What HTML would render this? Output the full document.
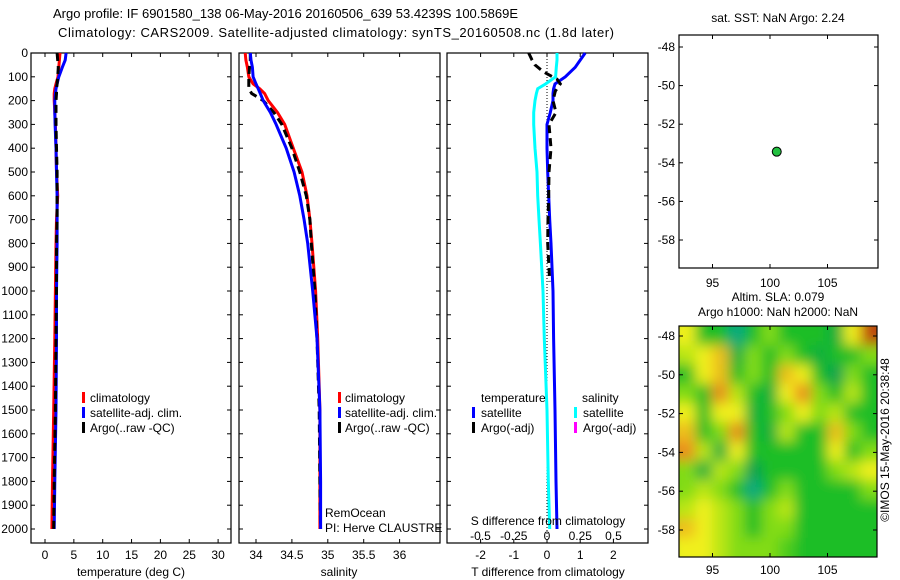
<!DOCTYPE html>
<html><head><meta charset="utf-8"><style>
html,body{margin:0;padding:0;background:#fff;}
svg{display:block;font-family:"Liberation Sans",sans-serif;}
text{font-size:12px;fill:#000;}
</style></head><body>
<svg id="s" width="900" height="580" xmlns="http://www.w3.org/2000/svg">
<defs>
<filter id="blur" x="-5%" y="-5%" width="110%" height="110%"><feGaussianBlur stdDeviation="6.5"/></filter>
<clipPath id="hmclip"><rect x="679" y="326" width="198" height="231"/></clipPath>
</defs>
<text x="53" y="18" style="font-size:13px" textLength="465">Argo profile: IF 6901580_138 06-May-2016 20160506_639 53.4239S 100.5869E</text>
<text x="58" y="37" style="font-size:13px" textLength="556">Climatology: CARS2009. Satellite-adjusted climatology: synTS_20160508.nc (1.8d later)</text>
<g id="g"></g>
</svg>
<script>
// ---- data ----
const depths      = [0, 30, 60, 100, 130, 150, 170, 200, 250, 300, 400, 500, 600, 700, 800, 1000, 1200, 1500, 1800, 2000];
const tempClim    = [2.6, 2.5, 2.4, 2.25, 1.9, 1.7, 1.6, 1.6, 1.7, 1.8, 1.9, 2.0, 2.2, 2.0, 1.9, 1.8, 1.7, 1.5, 1.3, 1.2];
const tempSat     = [3.65, 3.5, 3.0, 2.4, 2.1, 1.9, 1.8, 1.7, 1.7, 1.75, 1.9, 2.0, 2.1, 2.1, 2.1, 2.0, 2.0, 1.9, 1.7, 1.6];
const tempArgo    = [2.1, 2.2, 2.3, 2.2, 2.1, 2.0, 2.0, 1.9, 1.9, 1.9, 2.0, 2.1, 2.1, 2.1, 2.0, 2.0, 1.9, 1.8, 1.6, 1.5];
const salClim     = [33.85, 33.86, 33.88, 33.9, 33.96, 34.05, 34.12, 34.17, 34.3, 34.4, 34.52, 34.64, 34.71, 34.75, 34.78, 34.83, 34.86, 34.89, 34.89, 34.89];
const salSat      = [33.92, 33.93, 33.95, 33.96, 34.0, 34.03, 34.06, 34.1, 34.2, 34.28, 34.42, 34.53, 34.61, 34.67, 34.72, 34.79, 34.85, 34.89, 34.9, 34.9];
const salArgo     = [33.92, 33.92, 33.91, 33.9, 33.9, 33.9, 33.94, 34.1, 34.25, 34.36, 34.5, 34.61, 34.7, 34.75, 34.77, 34.82, 34.85, 34.88, 34.89, 34.9];
const tDiffSat    = [1.15, 1.0, 0.85, 0.55, 0.24, 0.2, 0.18, 0.18, 0.1, 0.0, 0.0, 0.02, 0.05, 0.08, 0.12, 0.18, 0.2, 0.24, 0.27, 0.3];
const sDiffSat    = [0.075, 0.075, 0.07, 0.065, -0.01, -0.07, -0.08, -0.09, -0.1, -0.1, -0.09, -0.075, -0.07, -0.06, -0.05, -0.03, -0.02, 0.0, 0.01, 0.02];
const tDiffArgo   = [-0.55, -0.45, -0.36, -0.1, 0.3, 0.4, 0.25, 0.18, 0.27, 0.06, 0.12, 0.06, 0.05, 0.03, 0.02, 0.08];
const depthsArgoD = [0, 30, 50, 80, 110, 130, 160, 200, 250, 300, 400, 500, 600, 700, 800, 960];
const tTicks = [0,5,10,15,20,25,30];
const sTicks = [34,34.5,35,35.5,36];
const dTicks = [0,100,200,300,400,500,600,700,800,900,1000,1100,1200,1300,1400,1500,1600,1700,1800,1900,2000];
const tdTicks = [-2,-1,0,1,2];
const sdTicks = [-0.5,-0.25,0,0.25,0.5];
const lonTicks = [95,100,105];
const latTicks = [-48,-50,-52,-54,-56,-58];
const argoLon = 100.5869, argoLat = -53.4239;
// SLA heatmap (rows north->south, cols west->east), relative units
const slaGrid = [
 [2,0,0,-1.5,0,1,0,0,0,-0.5,2,4],
 [1.5,2,2.5,-0.5,1,0,1,0,-0.5,0,0,1],
 [0,2,2.5,0,1,0,2.5,2,0,-1,1,0],
 [1,0,3,1.5,0,-0.5,2,3,1,0,1.5,0],
 [2,0,2,2,-0.5,0,1,2,1,1.5,0,0],
 [2.5,0,1,3,0,-0.5,1.5,0,0,2.5,1,0],
 [3,1.5,-0.5,2,0,0,0,0,0,2,0,1],
 [1,-0.5,1.5,1,-1,0,0,0,0,1,1.5,2],
 [1,1.5,1,0,-1.5,0,1,0,0,0,0,1],
 [1.5,2,1.5,1,0,1,1.5,0,0,0,0,0],
 [2.5,2,1.5,1,0,1,1,0,0,0,0,0],
 [2,2,1.5,1,1,1,0.5,0,0,0,0,0]
];
// ---- helpers ----
const NS="http://www.w3.org/2000/svg";
const G=document.getElementById('g');
function mk(tag,attrs,parent){const e=document.createElementNS(NS,tag);for(const k in attrs)e.setAttribute(k,attrs[k]);(parent||G).appendChild(e);return e;}
const yD = d => 53 + d*0.238;
const xT = v => 45 + v*5.77;
const xS = v => 256 + (v-34)*71.8;
const xTD = v => 547 + v*33.2;
const xSD = v => 547 + v*133;
const xLon = v => 770 + (v-100)*11.5;
const yLat = v => 47 + (-48 - v)*19.3;
const yLat2 = v => 336 + (-48 - v)*19.4;
function txt(x,y,s,anchor,name,extra){const t=mk('text',Object.assign({x:x,y:y,'text-anchor':anchor||'start'},extra||{}));t.textContent=s;return t;}
function frame(x0,y0,x1,y1,name){const r=mk('rect',{x:x0,y:y0,width:x1-x0,height:y1-y0,fill:'none',stroke:'#000','stroke-width':1.2});return r;}
function tick(x1,y1,x2,y2){const l=mk('line',{x1:x1,y1:y1,x2:x2,y2:y2,stroke:'#000','stroke-width':1});}
function line(xs,ds,xf,color,name,dash,w){
  const pts=xs.map((v,i)=>xf(v).toFixed(1)+','+yD(ds[i]).toFixed(1)).join(' ');
  const p=mk('polyline',{points:pts,fill:'none',stroke:color,'stroke-width':w||3,'stroke-dasharray':dash||'none'});
  return p;
}
function legBar(x,y,color){const r=mk('rect',{x:x,y:y-10,width:3,height:11,fill:color});}
const TOP=53, BOT=543;
// ---- panel 1 temperature ----
frame(31,TOP,231,BOT,'temperature-panel-frame');
dTicks.forEach(d=>{const y=yD(d);tick(31,y,35,y);tick(227,y,231,y);tick(239,y,243,y);tick(436,y,440,y);tick(447,y,451,y);tick(644,y,648,y);txt(28,y+4,String(d),'end','y-tick-label');});
tTicks.forEach(v=>{const x=xT(v);tick(x,TOP,x,TOP+4);tick(x,BOT-4,x,BOT);txt(x,559,String(v),'middle','x-tick-label');});
txt(131,576,'temperature (deg C)','middle','temperature-axis-title');
line(tempClim,depths,xT,'#ff0000','temp-climatology-line');
line(tempSat,depths,xT,'#0000ff','temp-satellite-line');
line(tempArgo,depths,xT,'#000','temp-argo-line','8,5');
legBar(82,402,'#ff0000');txt(90,402,'climatology','start','legend-climatology');
legBar(82,417,'#0000ff');txt(90,417,'satellite-adj. clim.','start','legend-satellite');
legBar(82,432,'#000');txt(90,432,'Argo(..raw -QC)','start','legend-argo');
// ---- panel 2 salinity ----
frame(239,TOP,440,BOT,'salinity-panel-frame');
sTicks.forEach(v=>{const x=xS(v);tick(x,TOP,x,TOP+4);tick(x,BOT-4,x,BOT);txt(x,559,String(v),'middle','x-tick-label');});
txt(339,576,'salinity','middle','salinity-axis-title');
line(salClim,depths,xS,'#ff0000','sal-climatology-line');
line(salArgo,depths,xS,'#000','sal-argo-line','8,5');
line(salSat,depths,xS,'#0000ff','sal-satellite-line');
legBar(338,402,'#ff0000');txt(345,402,'climatology','start','legend-climatology');
legBar(338,417,'#0000ff');txt(345,417,'satellite-adj. clim.','start','legend-satellite');
legBar(338,432,'#000');txt(345,432,'Argo(..raw -QC)','start','legend-argo');
txt(325,517,'RemOcean','start','remocean-label');
txt(325,532,'PI: Herve CLAUSTRE','start','pi-label');
// ---- panel 3 differences ----
frame(447,TOP,648,BOT,'difference-panel-frame');
tdTicks.forEach(v=>{const x=xTD(v);tick(x,TOP,x,TOP+4);tick(x,BOT-4,x,BOT);txt(x,559,String(v),'middle','x-tick-label');});
sdTicks.forEach(v=>{txt(xSD(v),540,String(v),'middle','s-diff-tick-label');});
const zl=mk('line',{x1:547,y1:TOP,x2:547,y2:BOT,stroke:'#000','stroke-width':1,'stroke-dasharray':'1,2'});

line(sDiffSat,depths,xSD,'#00ffff','sal-diff-satellite-line');
line(tDiffSat,depths,xTD,'#0000ff','temp-diff-satellite-line');
line(tDiffArgo,depthsArgoD,xTD,'#000','temp-diff-argo-line','8,5');
txt(548,525,'S difference from climatology','middle','s-diff-axis-title');
txt(548,576,'T difference from climatology','middle','t-diff-axis-title');
txt(481,402,'temperature','start','legend-temperature-header');
txt(582,402,'salinity','start','legend-salinity-header');
legBar(472,417,'#0000ff');txt(481,417,'satellite','start','legend-temp-satellite');
legBar(472,432,'#000');txt(481,432,'Argo(-adj)','start','legend-temp-argo');
legBar(574,417,'#00ffff');txt(583,417,'satellite','start','legend-sal-satellite');
legBar(574,432,'#ff00ff');txt(583,432,'Argo(-adj)','start','legend-sal-argo');
// ---- map panel ----
frame(679,35,878,268,'sst-map-frame');
txt(778,22,'sat. SST: NaN Argo: 2.24','middle','sst-map-title');
lonTicks.forEach(v=>{const x=xLon(v);tick(x,35,x,39);tick(x,264,x,268);txt(x,287,String(v),'middle','lon-tick-label');});
latTicks.forEach(v=>{const y=yLat(v);tick(679,y,683,y);tick(874,y,878,y);txt(675,y+4,String(v),'end','lat-tick-label');});
const dot=mk('circle',{cx:xLon(argoLon),cy:yLat(argoLat),r:4.5,fill:'#22c040',stroke:'#000','stroke-width':1});

// ---- SLA heatmap ----
txt(778,301,'Altim. SLA: 0.079','middle','sla-title-line-1');
txt(778,316,'Argo h1000: NaN h2000: NaN','middle','sla-title-line-2');
function col(v){
  const stops=[[-2,[0,176,176]],[-1,[0,160,80]],[0,[30,190,40]],[1,[130,220,20]],[2,[240,240,30]],[3,[235,140,30]],[4,[190,70,10]]];
  if(v<=stops[0][0])return 'rgb('+stops[0][1]+')';
  for(let i=1;i<stops.length;i++){if(v<=stops[i][0]){const a=stops[i-1],b=stops[i],t=(v-a[0])/(b[0]-a[0]);return 'rgb('+a[1].map((c,k)=>Math.round(c+(b[1][k]-c)*t)).join(',')+')';}}
  return 'rgb('+stops[stops.length-1][1]+')';
}
const hm=mk('g',{'clip-path':'url(#hmclip)'});

const bg=mk('rect',{x:679,y:326,width:198,height:231,fill:col(0)},hm);

const hb=mk('g',{filter:'url(#blur)'},hm);
const nR=slaGrid.length,nC=slaGrid[0].length,cw=198/nC,ch=231/nR;
slaGrid.forEach((row,r)=>row.forEach((v,c)=>{
  const x0=679+c*cw-(c===0?10:0), y0=326+r*ch-(r===0?10:0);
  const w=cw+1+(c===0?10:0)+(c===nC-1?10:0), h=ch+1+(r===0?10:0)+(r===nR-1?10:0);
  const cell=mk('rect',{x:x0,y:y0,width:w,height:h,fill:col(v)},hb);
  
  
}));
frame(679,326,877,557,'sla-map-frame');
lonTicks.forEach(v=>{const x=xLon(v);tick(x,326,x,330);tick(x,553,x,557);txt(x,574,String(v),'middle','lon-tick-label');});
latTicks.forEach(v=>{const y=yLat2(v);tick(679,y,683,y);tick(873,y,877,y);txt(675,y+4,String(v),'end','lat-tick-label');});
txt(0,0,'©IMOS 15-May-2016 20:38:48','middle','copyright-label',{transform:'translate(889,440) rotate(-90)'});
</script>
</body></html>
